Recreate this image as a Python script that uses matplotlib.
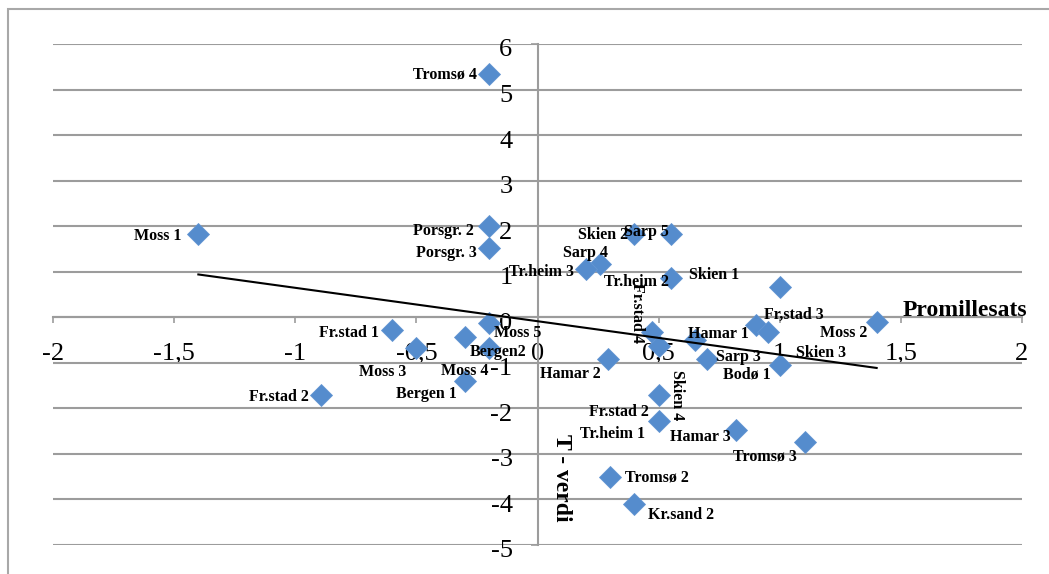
import numpy as np
import matplotlib
matplotlib.use("Agg")
import matplotlib.pyplot as plt
from matplotlib.patches import Rectangle
from matplotlib.transforms import ScaledTranslation

# Station / sample names with promille rate (x) and t-value (y)
names = [
    "Tromsø 4", "Moss 1", "Porsgr. 2", "Porsgr. 3", "Skien 2", "Sarp 5",
    "Sarp 4", "Tr.heim 3", "Tr.heim 2", "Skien 1", "Fr.stad 1", "Moss 3",
    "Moss 4", "Moss 5", "Bergen2", "Bergen 1", "Fr.stad 2", "Fr.stad 4",
    "Hamar 1", "Sarp 3", "Fr,stad 3", "Skien 3", "Moss 2", "Bodø 1",
    "Hamar 2", "Skien 4", "Fr.stad 2", "Tr.heim 1", "Hamar 3", "Tromsø 3",
    "Tromsø 2", "Kr.sand 2",
]
promillesats = [
    -0.20, -1.40, -0.20, -0.20, 0.40, 0.55,
    0.256, 0.20, 0.55, 1.00, -0.60, -0.50,
    -0.30, -0.20, -0.20, -0.30, -0.895, 0.474,
    0.65, 0.70, 0.90, 0.95, 1.40, 1.00,
    0.29, 0.50, 0.50, 0.50, 0.82, 1.105,
    0.30, 0.40,
]
t_verdi = [
    5.33, 1.82, 2.00, 1.52, 1.82, 1.82,
    1.16, 1.05, 0.86, 0.66, -0.29, -0.68,
    -0.44, -0.13, -0.68, -1.41, -1.71, -0.33,
    -0.50, -0.92, -0.18, -0.33, -0.11, -1.05,
    -0.92, -1.71, -0.64, -2.28, -2.48, -2.75,
    -3.51, -4.11,
]

x_ticks = [-2, -1.5, -1, -0.5, 0, 0.5, 1, 1.5, 2]
y_ticks = [-5, -4, -3, -2, -1, 0, 1, 2, 3, 4, 5, 6]

# label placement per point: offset in pixels, alignment, rotation
label_pos = [
    (-12, 0, "right", 0), (-17, -2, "right", 0), (-15, -5, "right", 0),
    (-12, -5, "right", 0), (-6, -1, "right", 0), (-2, 2, "right", 0),
    (-14, 11, "center", 0), (-12, -3, "right", 0), (-2, -4, "right", 0),
    (-91, 12, "left", 0), (-13, -3, "right", 0), (-10, -24, "right", 0),
    (0, -34, "center", 0), (5, -10, "left", 0), (-19, -4, "left", 0),
    (-8, -13, "right", 0), (-12, -2, "right", 0), (-15, 19, "center", -90),
    (-7, 6, "left", 0), (9, 2, "left", 0), (8, 10, "left", 0),
    (28, -21, "left", 0), (-9, -11, "right", 0), (-9, -10, "right", 0),
    (-7, -15, "right", 0), (18, 0, "center", -90), (-10, -66, "right", 0),
    (-13, -13, "right", 0), (-6, -7, "right", 0), (-8, -14, "right", 0),
    (15, -1, "left", 0), (14, -11, "left", 0),
]

plt.rcParams["font.family"] = ["Liberation Serif", "DejaVu Serif"]

W, H = 1049, 574
fig = plt.figure(figsize=(W / 100, H / 100), dpi=100)
fig.patch.set_facecolor("white")

# outer chart border
fig.add_artist(Rectangle((7.5 / W, -0.1), 1.2, 1 - 9 / H + 0.1,
                         transform=fig.transFigure, fill=False,
                         edgecolor="#A8A8A8", linewidth=1.5))

ax = fig.add_axes([53 / W, 1 - 544.6 / H, (1022 - 53) / W, (544.6 - 44) / H])
ax.set_xlim(-2, 2)
ax.set_ylim(-5, 6)
ax.set_facecolor("none")

grid_col = "#9C9C9C"
for side in ("top", "right"):
    ax.spines[side].set_visible(False)
ax.spines["left"].set_position(("data", 0))
ax.spines["bottom"].set_position(("data", 0))
for side in ("left", "bottom"):
    ax.spines[side].set_color(grid_col)
    ax.spines[side].set_linewidth(1.5)

ax.yaxis.grid(True, color=grid_col, linewidth=1.5)
ax.set_axisbelow(True)

ax.set_xticks(x_ticks)
ax.set_xticklabels([f"{v:g}".replace(".", ",") for v in x_ticks])
ax.set_yticks(y_ticks)
ax.set_yticklabels([f"{v:d}" for v in y_ticks])
ax.tick_params(axis="x", direction="out", length=4.5, width=1.2,
               color=grid_col, pad=14, labelsize=19)
ax.tick_params(axis="y", direction="out", length=5, width=1.2,
               color=grid_col, pad=13, labelsize=19)

# y labels sit slightly below their grid lines
shift = ScaledTranslation(0, -4 / 100, fig.dpi_scale_trans)
for lbl in ax.get_yticklabels():
    lbl.set_transform(lbl.get_transform() + shift)

xs = np.array(promillesats)
ys = np.array(t_verdi)
ax.plot(xs, ys, linestyle="none", marker="D", markersize=10.8,
        markerfacecolor="#558CCD", markeredgecolor="#6395D2",
        markeredgewidth=0.6, zorder=3, clip_on=False)

# linear trend line
coef = np.polyfit(xs, ys, 1)
tx = np.array([xs.min(), xs.max()])
ax.plot(tx, np.polyval(coef, tx), color="black", linewidth=1.5, zorder=4)

for name, x, y, (dx, dy, ha, rot) in zip(names, xs, ys, label_pos):
    ax.annotate(name, (x, y), xytext=(dx, dy), textcoords="offset pixels",
                ha=ha, va="center", rotation=rot, fontsize=11.5,
                fontweight="bold", zorder=5)

ax.text(1.506, 0.03, "Promillesats", fontsize=17, fontweight="bold",
        ha="left", va="baseline", zorder=5)
ax.text(0.099, -3.54, "T - verdi", fontsize=17, fontweight="bold",
        rotation=-90, ha="center", va="center", zorder=5)

fig.savefig("out.png", dpi=100)
